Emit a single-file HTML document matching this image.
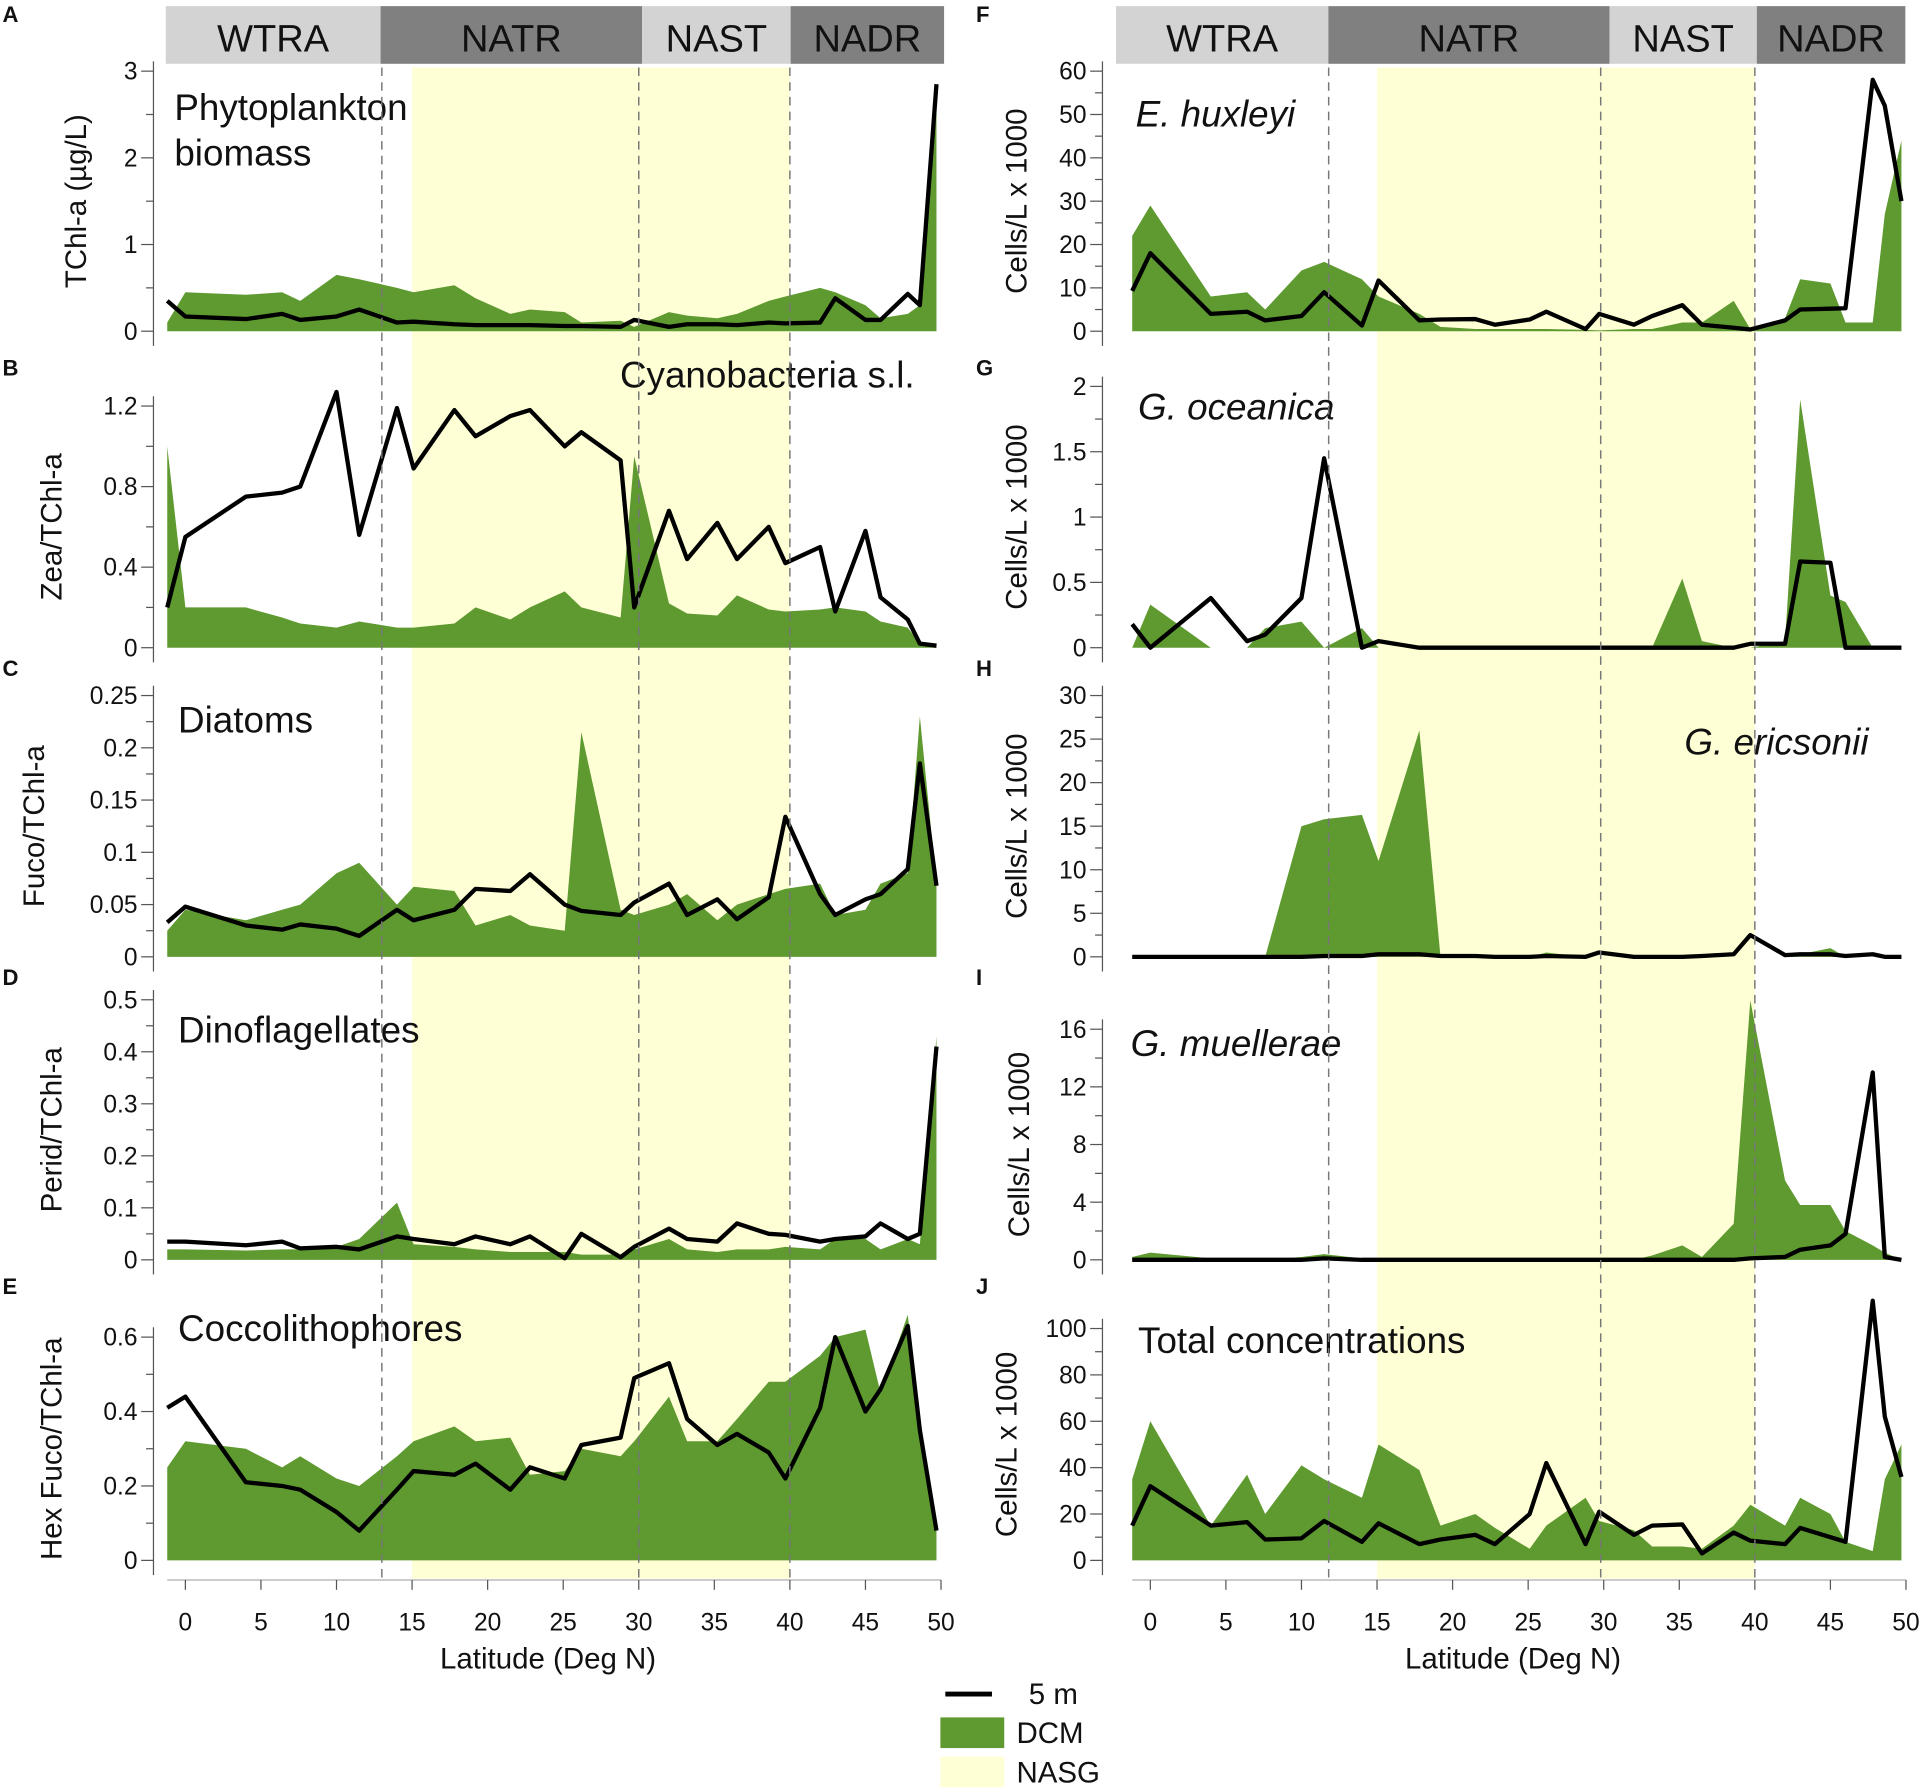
<!DOCTYPE html>
<html><head><meta charset="utf-8">
<style>
html,body{margin:0;padding:0;background:#fff;}
svg{display:block;font-family:"Liberation Sans",Arial,sans-serif;}
</style></head>
<body>
<svg id="fig" width="1925" height="1791" viewBox="0 0 1568 1460" preserveAspectRatio="none" xmlns="http://www.w3.org/2000/svg"></svg>
<script>
const lat5 = [-1.2,0,4,6.4,7.6,10,11.5,14,15.1,17.8,19.2,21.5,22.8,25.1,26.2,28.8,29.7,32,33.2,35.2,36.5,38.6,39.7,42,43,45,46,47.8,48.6,49.7];
const latTicks = [0,5,10,15,20,25,30,35,40,45,50];
const provinces = ["WTRA","NATR","NAST","NADR"];
const A5 = [0.35,0.17,0.14,0.2,0.13,0.17,0.25,0.1,0.11,0.08,0.07,0.07,0.07,0.06,0.06,0.05,0.13,0.05,0.08,0.08,0.07,0.1,0.09,0.1,0.38,0.13,0.13,0.43,0.3,2.85];
const Adcm = [0.1,0.45,0.42,0.45,0.35,0.65,0.6,0.5,0.45,0.53,0.38,0.2,0.25,0.22,0.1,0.12,0.05,0.22,0.18,0.15,0.2,0.35,0.4,0.5,0.45,0.3,0.15,0.2,0.3,2.7];
const B5 = [0.2,0.55,0.75,0.77,0.8,1.27,0.56,1.19,0.89,1.18,1.05,1.15,1.18,1.0,1.07,0.93,0.2,0.68,0.44,0.62,0.44,0.6,0.42,0.5,0.18,0.58,0.25,0.14,0.02,0.01];
const Bdcm = [1.0,0.2,0.2,0.15,0.12,0.1,0.13,0.1,0.1,0.12,0.2,0.14,0.2,0.28,0.2,0.15,0.95,0.22,0.17,0.16,0.26,0.19,0.18,0.19,0.2,0.18,0.13,0.1,0.02,0.02];
const C5 = [0.033,0.048,0.03,0.026,0.031,0.027,0.02,0.045,0.035,0.045,0.065,0.063,0.079,0.05,0.044,0.04,0.052,0.07,0.04,0.055,0.036,0.057,0.134,0.06,0.04,0.055,0.06,0.084,0.185,0.068];
const Cdcm = [0.025,0.045,0.035,0.045,0.05,0.08,0.09,0.05,0.067,0.063,0.03,0.04,0.03,0.025,0.215,0.045,0.04,0.05,0.06,0.035,0.05,0.06,0.065,0.07,0.04,0.045,0.07,0.08,0.23,0.07];
const D5 = [0.035,0.035,0.028,0.035,0.022,0.025,0.02,0.045,0.04,0.03,0.045,0.03,0.045,0.003,0.05,0.005,0.025,0.06,0.04,0.035,0.07,0.05,0.048,0.035,0.04,0.045,0.07,0.04,0.05,0.41];
const Ddcm = [0.02,0.02,0.018,0.02,0.02,0.025,0.04,0.11,0.03,0.025,0.02,0.015,0.015,0.015,0.01,0.01,0.02,0.04,0.02,0.015,0.02,0.02,0.025,0.02,0.04,0.04,0.02,0.04,0.03,0.43];
const E5 = [0.41,0.44,0.21,0.2,0.19,0.13,0.08,0.19,0.24,0.23,0.26,0.19,0.25,0.22,0.31,0.33,0.49,0.53,0.38,0.31,0.34,0.29,0.22,0.41,0.6,0.4,0.46,0.63,0.35,0.08];
const Edcm = [0.25,0.32,0.3,0.25,0.28,0.22,0.2,0.28,0.32,0.36,0.32,0.33,0.23,0.24,0.3,0.28,0.32,0.44,0.32,0.32,0.38,0.48,0.48,0.55,0.6,0.62,0.45,0.66,0.38,0.1];
const F5 = [9.3,18,4,4.5,2.5,3.5,9,1.3,11.7,2.5,2.7,2.8,1.5,2.7,4.5,0.5,4,1.5,3.5,6,1.5,0.8,0.4,2.5,5,5.2,5.3,58,52,30];
const Fdcm = [22,29,8,9,5,14,16,12,8,4,1,0.5,0.5,0.5,0.5,0.3,0.2,0.5,0.5,2,2,7,0.5,3,12,11,2,2,27,44];
const G5 = [0.18,0,0.38,0.05,0.1,0.38,1.45,0,0.05,0,0,0,0,0,0,0,0,0,0,0,0,0,0.03,0.03,0.66,0.65,0,0,0,0];
const Gdcm = [0,0.33,0,0,0.15,0.2,0,0.15,0,0,0,0,0,0,0,0,0,0,0,0.53,0.05,0,0,0.05,1.9,0.4,0.35,0,0,0];
const H5 = [0,0,0,0,0,0,0.1,0.1,0.3,0.3,0.1,0.1,0,0,0.1,0,0.5,0,0,0,0.1,0.3,2.5,0.2,0.3,0.3,0.1,0.3,0,0];
const Hdcm = [0,0,0,0,0,15,15.8,16.3,11,26,0,0,0,0,0.5,0,0,0,0,0,0,0,0,0,0.3,1,0,0,0,0];
const I5 = [0,0,0,0,0,0,0.1,0,0,0,0,0,0,0,0,0,0,0,0,0,0,0,0.1,0.2,0.7,1,1.8,13,0.2,0];
const Idcm = [0.2,0.5,0.1,0,0,0.2,0.4,0.1,0,0,0,0,0,0,0,0,0,0,0.3,1.0,0.2,2.5,18,5.5,3.8,3.8,2.0,1,0.5,0];
const J5 = [15,32,15,16.5,9,9.5,17,8,16,7,9,11,7,20,42,7,21,11,15,15.5,3,12,8.5,7,14,10,8,112,62,36];
const Jdcm = [35,60,15,37,20,41,35,27,50,39,15,20,14,5,15,27,17,13,6,6,5,15,24,15,27,20,8,4,35,50];

const svg = document.getElementById('fig');
const NS = 'http://www.w3.org/2000/svg';
function mk(tag, attrs, parent){const e=document.createElementNS(NS,tag);for(const k in attrs)e.setAttribute(k,attrs[k]);(parent||svg).appendChild(e);return e;}
function txt(s, attrs, parent){const e=mk('text',attrs,parent);e.textContent=s;return e;}

const cols = [
 {x0:151, axisX:125, hdr:[[135,310],[310,523],[523,644],[644,769]], dash:[13,30,40]},
 {x0:937, axisX:898, hdr:[[909,1082],[1082,1311],[1311,1431],[1431,1552]], dash:[11.8,29.8,40]}
];
const XS = 12.31;
function xs(c, lat){return cols[c].x0 + lat*XS;}

cols.forEach((c,ci)=>{
  const hc=['#d3d3d3','#808080','#d3d3d3','#808080'];
  provinces.forEach((p,i)=>{
    const h=c.hdr[i];
    let r=mk('rect',{x:h[0],y:5,width:h[1]-h[0],height:47,fill:hc[i]});
    
    
    let t=txt(p,{x:(h[0]+h[1])/2,y:42,'text-anchor':'middle','font-size':31,fill:'#111'});
    
    
  });
  let y=mk('rect',{x:xs(ci,15),y:55,width:xs(ci,40)-xs(ci,15),height:1232,fill:'#ffffd6'});
  
  
});

const panels = [
 {c:0,y0:270,y1:58,max:3,ticks:[0,1,2,3],minor:0.5,l5:A5,ld:Adcm,letter:'A',ytitle:'TChl-a (µg/L)',ytx:70,title:['Phytoplankton','biomass'],tx:142,ty:98,name:'phytoplankton'},
 {c:0,y0:528,y1:331,max:1.2,ticks:[0,0.4,0.8,1.2],minor:0.2,l5:B5,ld:Bdcm,letter:'B',ytitle:'Zea/TChl-a',ytx:50,title:['Cyanobacteria s.l.'],tx:745,ty:316,anchor:'end',name:'cyanobacteria'},
 {c:0,y0:780,y1:567,max:0.25,ticks:[0,0.05,0.1,0.15,0.2,0.25],minor:0.025,l5:C5,ld:Cdcm,letter:'C',ytitle:'Fuco/TChl-a',ytx:36,title:['Diatoms'],tx:145,ty:597,name:'diatoms'},
 {c:0,y0:1027,y1:815,max:0.5,ticks:[0,0.1,0.2,0.3,0.4,0.5],minor:0.05,l5:D5,ld:Ddcm,letter:'D',ytitle:'Perid/TChl-a',ytx:50,title:['Dinoflagellates'],tx:145,ty:850,name:'dinoflagellates'},
 {c:0,y0:1272,y1:1090,max:0.6,ticks:[0,0.2,0.4,0.6],minor:0.1,l5:E5,ld:Edcm,letter:'E',ytitle:'Hex Fuco/TChl-a',ytx:50,title:['Coccolithophores'],tx:145,ty:1093,name:'coccolithophores'},
 {c:1,y0:270,y1:58,max:60,ticks:[0,10,20,30,40,50,60],minor:5,l5:F5,ld:Fdcm,letter:'F',ytitle:'Cells/L x 1000',ytx:836,title:['E. huxleyi'],italic:true,tx:925,ty:103,name:'e-huxleyi'},
 {c:1,y0:528,y1:315,max:2,ticks:[0,0.5,1,1.5,2],minor:0.25,l5:G5,ld:Gdcm,letter:'G',ytitle:'Cells/L x 1000',ytx:836,title:['G. oceanica'],italic:true,tx:927,ty:342,name:'g-oceanica'},
 {c:1,y0:780,y1:567,max:30,ticks:[0,5,10,15,20,25,30],minor:2.5,l5:H5,ld:Hdcm,letter:'H',ytitle:'Cells/L x 1000',ytx:836,title:['G. ericsonii'],italic:true,tx:1522,ty:615,anchor:'end',name:'g-ericsonii'},
 {c:1,y0:1027,y1:839,max:16,ticks:[0,4,8,12,16],minor:2,l5:I5,ld:Idcm,letter:'I',ytitle:'Cells/L x 1000',ytx:838,title:['G. muellerae'],italic:true,tx:921,ty:861,name:'g-muellerae'},
 {c:1,y0:1272,y1:1083,max:100,ticks:[0,20,40,60,80,100],minor:10,l5:J5,ld:Jdcm,letter:'J',ytitle:'Cells/L x 1000',ytx:828,title:['Total concentrations'],tx:927,ty:1103,name:'total-concentrations'}
];
const letterY={A:15,B:303,C:548,D:800,E:1052,F:15,G:303,H:548,I:800,J:1052};

panels.forEach(p=>{
  const g=mk('g',{});
  
  
  const ys=v=>p.y0-(v/p.max)*(p.y0-p.y1);
  const c=cols[p.c];
  let pts=[xs(p.c,lat5[0])+','+p.y0];
  p.ld.forEach((v,i)=>pts.push(xs(p.c,lat5[i])+','+ys(v)));
  pts.push(xs(p.c,lat5[lat5.length-1])+','+p.y0);
  let a=mk('polygon',{points:pts.join(' '),fill:'#5f9a31'},g);
  
  
  const axTop=p.y1-8, axBot=p.y0+12;
  mk('line',{x1:c.axisX,y1:axTop,x2:c.axisX,y2:axBot,stroke:'#555','stroke-width':1},g);
  for(let v=0; v<=p.max+1e-9; v+=p.minor){
    const isMaj=p.ticks.some(t=>Math.abs(t-v)<1e-9);
    mk('line',{x1:c.axisX-(isMaj?10:6),y1:ys(v),x2:c.axisX,y2:ys(v),stroke:'#555','stroke-width':1},g);
  }
  p.ticks.forEach(t=>{
    let e=txt(String(t),{x:c.axisX-13,y:ys(t)+7,'text-anchor':'end','font-size':20,fill:'#111'},g);
    
    
  });
  let lp=p.l5.map((v,i)=>xs(p.c,lat5[i])+','+ys(v)).join(' ');
  let l=mk('polyline',{points:lp,fill:'none',stroke:'#000','stroke-width':3.5,'stroke-linejoin':'round'},g);
  
  
  p.title.forEach((t,i)=>{
    let e=txt(t,{x:p.tx,y:p.ty+i*37,'font-size':30,fill:'#111','text-anchor':p.anchor||'start','font-style':p.italic?'italic':'normal'},g);
    
    
  });
  const yc=(p.y0+p.y1)/2;
  const tx=p.ytx;
  let yt=txt(p.ytitle,{x:tx,y:yc,'font-size':24,fill:'#111','text-anchor':'middle',transform:`rotate(-90 ${tx} ${yc})`},g);
  
  
  let lt=txt(p.letter,{x:p.c===0?2:795,y:letterY[p.letter]+3,'font-size':18,'font-weight':'bold',fill:'#111'},g);
  
  
});

cols.forEach((c,ci)=>{
  c.dash.forEach(d=>{
    let l=mk('line',{x1:xs(ci,d),y1:55,x2:xs(ci,d),y2:1287,stroke:'#777','stroke-width':1.2,'stroke-dasharray':'7,5'});
    
    
  });
  mk('line',{x1:xs(ci,-1.2),y1:1288,x2:xs(ci,50),y2:1288,stroke:'#999','stroke-width':0.8});
  latTicks.forEach(t=>{
    mk('line',{x1:xs(ci,t),y1:1288,x2:xs(ci,t),y2:1296,stroke:'#555','stroke-width':1});
    let e=txt(String(t),{x:xs(ci,t),y:1329,'text-anchor':'middle','font-size':20,fill:'#111'});
    
    
  });
  let xt=txt('Latitude (Deg N)',{x:xs(ci,24),y:1360,'text-anchor':'middle','font-size':24,fill:'#111'});
  
  
});
</script>
<svg width="1925" height="1791" viewBox="0 0 1568 1460" preserveAspectRatio="none" style="position:absolute;left:0;top:0" xmlns="http://www.w3.org/2000/svg" font-family="Liberation Sans, Arial, sans-serif">
  <line x1="770" y1="1381" x2="808" y2="1381" stroke="#000" stroke-width="4"/>
  <text x="838" y="1389" font-size="24" fill="#111">5 m</text>
  <rect x="766" y="1400" width="52" height="25" fill="#5f9a31"/>
  <text x="828" y="1421" font-size="24" fill="#111">DCM</text>
  <rect x="766" y="1432" width="52" height="25" fill="#ffffd6"/>
  <text x="828" y="1453" font-size="24" fill="#111">NASG</text>
</svg>
</body></html>
